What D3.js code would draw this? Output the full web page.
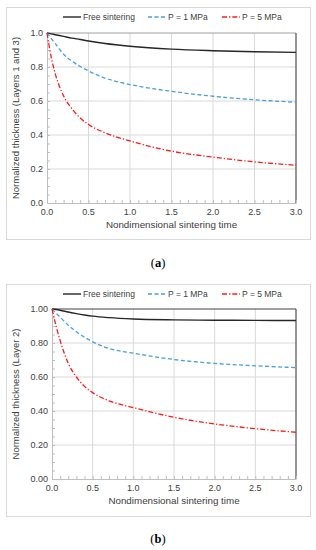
<!DOCTYPE html>
<html>
<head>
<meta charset="utf-8">
<script src="https://cdn.jsdelivr.net/npm/d3@7"></script>
<style>
  body { margin: 0; background: #fff; }
  text { font-family: "Liberation Sans", Arial, sans-serif; fill: #404040; }
</style>
</head>
<body>
<div id="chart"></div>
<script>
'use strict';

// nondimensional sintering time
const times = [0, 0.05, 0.1, 0.2, 0.3, 0.4, 0.5, 0.7, 1.0, 1.5, 2.0, 2.5, 3.0];

// panel (a): layers 1 and 3
const freeA = [1.0, 0.995, 0.99, 0.98, 0.97, 0.962, 0.953, 0.938, 0.922, 0.905, 0.896, 0.89, 0.886];
const p1A   = [1.0, 0.968, 0.937, 0.875, 0.835, 0.803, 0.777, 0.735, 0.697, 0.657, 0.628, 0.607, 0.593];
const p5A   = [1.0, 0.86, 0.76, 0.63, 0.555, 0.5, 0.462, 0.413, 0.365, 0.305, 0.27, 0.242, 0.222];

// panel (b): layer 2
const freeB = [1.0, 0.997, 0.993, 0.982, 0.973, 0.965, 0.958, 0.949, 0.941, 0.936, 0.934, 0.933, 0.932];
const p1B   = [1.0, 0.976, 0.952, 0.905, 0.866, 0.834, 0.807, 0.768, 0.74, 0.703, 0.68, 0.666, 0.655];
const p5B   = [1.0, 0.9, 0.815, 0.68, 0.6, 0.545, 0.508, 0.46, 0.42, 0.363, 0.324, 0.296, 0.275];

const seriesNames = ["Free sintering", "P = 1 MPa", "P = 5 MPa"];
const xTicks = [0, 0.5, 1.0, 1.5, 2.0, 2.5, 3.0];
const yTicks = [0, 0.2, 0.4, 0.6, 0.8, 1.0];

const styles = [
  { color: "#262626", dash: null, width: 1.4 },
  { color: "#4a9fdc", dash: "4,2.5", width: 1.3 },
  { color: "#ff1a1a", dash: "5,2,1.3,2", width: 1.3 }
];

const svg = d3.select('#chart')
  .append('svg')
  .attr('width', 316)
  .attr('height', 550);

drawPanel({
  box: { x: 6, y: 7, w: 304, h: 232 },
  plot: { left: 47, right: 296, top: 33, bottom: 203 },
  legendY: 17,
  yFormat: d3.format(".1f"),
  yTitle: "Normalized thickness (Layers 1 and 3)",
  topColor: "#a0a0a0",
  series: [freeA, p1A, p5A],
  caption: "a",
  captionY: 267
});

drawPanel({
  box: { x: 6, y: 284, w: 304, h: 232 },
  plot: { left: 52, right: 296, top: 309, bottom: 479 },
  legendY: 294,
  yFormat: d3.format(".2f"),
  yTitle: "Normalized thickness (Layer 2)",
  topColor: "#404040",
  series: [freeB, p1B, p5B],
  caption: "b",
  captionY: 543
});

function drawPanel(cfg) {
  let p = cfg.plot;
  let g = svg.append('g');

  // outer chart frame
  g.append('rect')
    .attr('x', cfg.box.x + 0.5)
    .attr('y', cfg.box.y + 0.5)
    .attr('width', cfg.box.w)
    .attr('height', cfg.box.h)
    .attr('fill', 'none')
    .attr('stroke', '#d9d9d9');

  let xScale = d3.scaleLinear().domain([0, 3]).range([p.left, p.right]);
  let yScale = d3.scaleLinear().domain([0, 1]).range([p.bottom, p.top]);

  // grid lines
  g.selectAll('.vgrid')
    .data(xTicks.slice(1, -1))
    .enter()
    .append('line')
      .attr('x1', (d) => xScale(d)).attr('x2', (d) => xScale(d))
      .attr('y1', p.top).attr('y2', p.bottom)
      .attr('stroke', '#d9d9d9').attr('stroke-width', 1);
  g.selectAll('.hgrid')
    .data(yTicks.slice(1, -1))
    .enter()
    .append('line')
      .attr('x1', p.left).attr('x2', p.right)
      .attr('y1', (d) => yScale(d)).attr('y2', (d) => yScale(d))
      .attr('stroke', '#d9d9d9').attr('stroke-width', 1);

  // top line at 1.0 and right border
  g.append('line')
    .attr('x1', p.left).attr('x2', p.right)
    .attr('y1', yScale(1)).attr('y2', yScale(1))
    .attr('stroke', cfg.topColor).attr('stroke-width', 1);
  g.append('line')
    .attr('x1', xScale(3)).attr('x2', xScale(3))
    .attr('y1', p.top).attr('y2', p.bottom)
    .attr('stroke', '#505050').attr('stroke-width', 1.2);

  // bottom axis with minor ticks pointing inward
  let xAxis = d3.axisBottom(xScale)
    .tickValues(d3.range(0, 3.001, 0.1))
    .tickSizeInner(-3)
    .tickSizeOuter(0)
    .tickFormat('');
  let xg = g.append('g')
    .attr('transform', 'translate(0,' + p.bottom + ')')
    .call(xAxis);
  xg.selectAll('line').attr('stroke', '#bfbfbf');
  xg.select('.domain').attr('stroke', '#bfbfbf');

  g.selectAll('.xlab')
    .data(xTicks)
    .enter()
    .append('text')
      .attr('x', (d) => xScale(d))
      .attr('y', p.bottom + 12)
      .attr('text-anchor', 'middle')
      .style('font-size', '9px')
      .text((d) => d3.format(".1f")(d));

  // left axis with minor ticks pointing inward
  let yAxis = d3.axisLeft(yScale)
    .tickValues(d3.range(0, 1.001, 0.05))
    .tickSizeInner(-3)
    .tickSizeOuter(0)
    .tickFormat('');
  let yg = g.append('g')
    .attr('transform', 'translate(' + p.left + ',0)')
    .call(yAxis);
  yg.selectAll('line').attr('stroke', '#bfbfbf');
  yg.select('.domain').attr('stroke', '#bfbfbf');

  g.selectAll('.ylab')
    .data(yTicks)
    .enter()
    .append('text')
      .attr('x', p.left - 4)
      .attr('y', (d) => yScale(d) + 3)
      .attr('text-anchor', 'end')
      .style('font-size', '9px')
      .text((d) => cfg.yFormat(d));

  // axis titles
  g.append('text')
    .attr('x', (p.left + p.right) / 2)
    .attr('y', p.bottom + 25)
    .attr('text-anchor', 'middle')
    .style('font-size', '9.8px')
    .text("Nondimensional sintering time");

  g.append('text')
    .attr('transform', 'translate(19,' + ((p.top + p.bottom) / 2) + ') rotate(-90)')
    .attr('text-anchor', 'middle')
    .style('font-size', '9.5px')
    .text(cfg.yTitle);

  // curves
  let line = d3.line()
    .x((d, i) => xScale(times[i]))
    .y((d) => yScale(d))
    .curve(d3.curveMonotoneX);

  cfg.series.forEach((vals, i) => {
    g.append('path')
      .datum(vals)
      .attr('fill', 'none')
      .attr('stroke', styles[i].color)
      .attr('stroke-width', styles[i].width)
      .attr('stroke-dasharray', styles[i].dash)
      .attr('d', line);
  });

  // legend
  let legendX = [63, 148, 222];
  seriesNames.forEach((name, i) => {
    g.append('line')
      .attr('x1', legendX[i]).attr('x2', legendX[i] + 18)
      .attr('y1', cfg.legendY).attr('y2', cfg.legendY)
      .attr('stroke', styles[i].color)
      .attr('stroke-width', styles[i].width)
      .attr('stroke-dasharray', styles[i].dash);
    g.append('text')
      .attr('x', legendX[i] + 20)
      .attr('y', cfg.legendY + 3)
      .style('font-size', '8.5px')
      .text(name);
  });

  // caption (a) / (b)
  let cap = g.append('text')
    .attr('x', 158)
    .attr('y', cfg.captionY)
    .attr('text-anchor', 'middle')
    .style('font-family', '"Liberation Serif", "Times New Roman", serif')
    .style('font-size', '12.5px')
    .style('fill', '#000');
  cap.append('tspan').text('(');
  cap.append('tspan').style('font-weight', 'bold').text(cfg.caption);
  cap.append('tspan').text(')');
}
</script>
</body>
</html>
